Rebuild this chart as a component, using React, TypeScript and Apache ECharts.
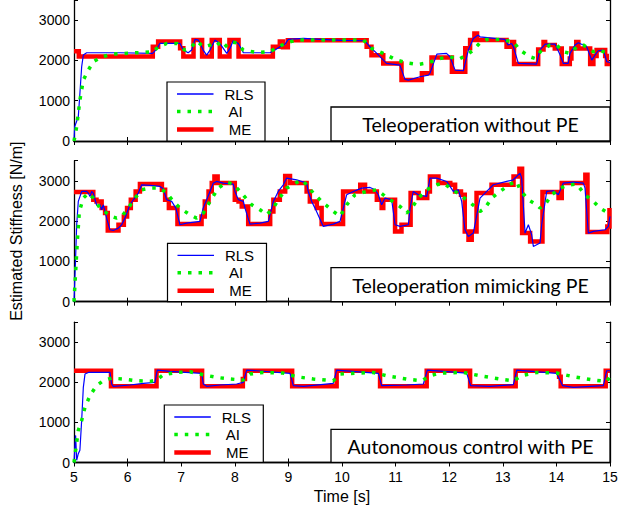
import React, { useEffect, useRef } from 'react';
import * as echarts from 'echarts';

// ---------- axis ticks / labels ----------
const X_TICKS = [5, 6, 7, 8, 9, 10, 11, 12, 13, 14, 15];
const Y_TICKS = [0, 1000, 2000, 3000];
const Y_MAX = 3500;
const SERIES_NAMES = ['RLS', 'AI', 'ME'];
const PANEL_TITLES = ['Teleoperation without PE', 'Teleoperation mimicking PE', 'Autonomous control with PE'];
const X_NAME = 'Time [s]';
const Y_NAME = 'Estimated Stiffness [N/m]';

// ---------- panel 1: Teleoperation without PE ----------
const topME: number[][] = [
  [5.0, 2230], [5.09, 2100], [6.47, 2340], [6.57, 2470], [6.98, 2300], [7.04, 2100], [7.23, 2510], [7.39, 2100],
  [7.57, 2510], [7.72, 2100], [7.9, 2510], [8.07, 2100], [8.71, 2340], [8.84, 2470], [8.9, 2330], [8.99, 2500],
  [10.46, 2340], [10.55, 2130], [10.77, 1926], [11.11, 1513], [11.49, 1680], [11.67, 2075], [12.05, 1720],
  [12.3, 2300], [12.39, 2505], [12.47, 2670], [12.52, 2505], [13.07, 2340], [13.17, 2460], [13.21, 1910],
  [13.66, 2274], [13.76, 2460], [13.79, 2381], [13.97, 2298], [14.1, 1910], [14.25, 2050], [14.28, 2298],
  [14.37, 2460], [14.41, 2298], [14.63, 1910], [14.69, 2108], [14.75, 2257], [14.91, 2108], [14.94, 1910], [15.0, 1910],
];
const topRLS: number[][] = [
  [5.0, 0], [5.012, 354], [5.08, 603], [5.11, 1181], [5.143, 1843], [5.174, 2133], [5.236, 2190], [5.86, 2190],
  [6.467, 2174], [6.54, 2273], [6.6, 2422], [6.977, 2422], [7.04, 2257], [7.13, 2190], [7.195, 2257], [7.257, 2521],
  [7.32, 2505], [7.41, 2257], [7.475, 2132], [7.537, 2257], [7.63, 2505], [7.72, 2422], [7.85, 2174], [7.91, 2298],
  [7.97, 2488], [8.066, 2422], [8.16, 2190], [8.656, 2190], [8.75, 2257], [8.843, 2339], [8.936, 2397], [8.998, 2521],
  [9.28, 2546], [9.6, 2525], [10.0, 2500], [10.43, 2488], [10.52, 2339], [10.65, 2174], [10.83, 1926], [11.08, 1884],
  [11.175, 1529], [11.24, 1512], [11.455, 1595], [11.61, 1636], [11.64, 1678], [11.77, 2157], [11.95, 2174],
  [12.015, 2091], [12.11, 1760], [12.264, 1744], [12.357, 2257], [12.45, 2546], [12.54, 2629], [12.575, 2587],
  [13.04, 2521], [13.1, 2381], [13.165, 2422], [13.197, 2339], [13.29, 1926], [13.63, 1909], [13.69, 2257],
  [13.79, 2405], [13.974, 2405], [14.07, 2132], [14.13, 1926], [14.22, 1926], [14.254, 2174], [14.347, 2381],
  [14.41, 2438], [14.565, 2339], [14.66, 2008], [14.72, 2132], [14.78, 2240], [14.876, 2257], [14.94, 1967], [15.0, 1950],
];
const topAI: number[][] = [
  [5.0, 0], [5.05, 354], [5.11, 1016], [5.174, 1512], [5.267, 1760], [5.36, 1967], [5.516, 2091], [5.733, 2157],
  [6.17, 2190], [6.48, 2215], [6.573, 2339], [6.73, 2422], [6.915, 2422], [7.07, 2257], [7.195, 2339], [7.288, 2488],
  [7.41, 2339], [7.537, 2381], [7.66, 2463], [7.786, 2298], [7.91, 2463], [8.035, 2438], [8.16, 2257], [8.41, 2199],
  [8.656, 2215], [8.81, 2339], [8.967, 2438], [9.154, 2505], [10.4, 2505], [10.554, 2298], [10.77, 2174],
  [11.02, 2008], [11.207, 1942], [11.425, 1901], [11.61, 1942], [11.83, 2050], [12.015, 2091], [12.17, 2025],
  [12.326, 2132], [12.45, 2257], [12.575, 2438], [12.7, 2521], [12.95, 2521], [13.197, 2463], [13.32, 2257],
  [13.508, 2091], [13.6, 2050], [13.725, 2257], [13.88, 2381], [14.005, 2381], [14.13, 2215], [14.254, 2174],
  [14.38, 2339], [14.503, 2381], [14.69, 2215], [14.814, 2257], [14.94, 2174], [15.0, 2132],
];

// ---------- panel 2: Teleoperation mimicking PE ----------
const midME: number[][] = [
  [5.0, 2720], [5.36, 2530], [5.42, 2489], [5.516, 2323], [5.58, 2199], [5.63, 1765], [5.83, 1910], [5.93, 2117],
  [5.99, 2323], [6.06, 2530], [6.15, 2737], [6.23, 2919], [6.64, 2778], [6.7, 2530], [6.77, 2323], [6.93, 1927],
  [7.38, 2117], [7.44, 2489], [7.51, 2737], [7.57, 2944], [7.62, 3109], [7.68, 2944], [8.0, 2530], [8.07, 2489],
  [8.13, 2365], [8.25, 1927], [8.66, 2241], [8.72, 2530], [8.84, 2737], [8.94, 3120], [9.03, 2944], [9.34, 2737],
  [9.4, 2489], [9.53, 2323], [9.62, 1927], [10.02, 2737], [10.34, 2902], [10.43, 2737], [10.65, 2530], [10.74, 2323],
  [10.77, 2530], [10.99, 1745], [11.11, 1910], [11.28, 2696], [11.43, 2572], [11.59, 2737], [11.64, 3109],
  [11.8, 2944], [12.02, 2902], [12.11, 2737], [12.22, 2654], [12.29, 1745], [12.36, 1538], [12.42, 1745],
  [12.51, 2696], [12.79, 2902], [13.2, 3109], [13.31, 3300], [13.36, 1703], [13.51, 1497], [13.74, 2720],
  [14.04, 2572], [14.1, 2944], [14.54, 3151], [14.58, 1728], [14.95, 1869], [14.99, 2323], [15.0, 2323],
];
const midRLS: number[][] = [
  [5.0, 0], [5.03, 1083], [5.05, 1910], [5.08, 2489], [5.143, 2737], [5.236, 2737], [5.267, 2696], [5.298, 2613],
  [5.33, 2737], [5.36, 2696], [5.42, 2406], [5.453, 2365], [5.485, 2406], [5.516, 2282], [5.547, 2406], [5.578, 2241],
  [5.609, 2075], [5.67, 1786], [5.733, 1769], [5.827, 1827], [5.889, 1910], [5.951, 2075], [6.044, 2406], [6.107, 2530],
  [6.2, 2696], [6.262, 2902], [6.418, 2886], [6.604, 2861], [6.666, 2803], [6.728, 2530], [6.822, 2489], [6.9, 2323],
  [6.977, 1910], [7.1, 1951], [7.35, 1993], [7.41, 2323], [7.475, 2530], [7.537, 2737], [7.6, 2944], [7.66, 2985],
  [7.786, 2944], [7.972, 2919], [8.003, 2737], [8.066, 2530], [8.16, 2489], [8.19, 2323], [8.283, 1927], [8.47, 1951],
  [8.625, 1993], [8.72, 2489], [8.81, 2737], [8.905, 2902], [8.967, 3068], [9.154, 3026], [9.34, 2944], [9.37, 2737],
  [9.434, 2489], [9.496, 2323], [9.651, 1869], [9.838, 1927], [9.963, 1993], [10.056, 2489], [10.087, 2654],
  [10.212, 2737], [10.367, 2820], [10.523, 2836], [10.616, 2778], [10.678, 2654], [10.74, 2406], [10.803, 2572],
  [10.927, 2530], [10.99, 1910], [11.083, 1869], [11.238, 1910], [11.27, 2323], [11.33, 2737], [11.425, 2654],
  [11.58, 2613], [11.642, 3068], [11.767, 3068], [11.953, 2985], [12.077, 2737], [12.17, 2778], [12.233, 2489],
  [12.295, 1786], [12.357, 1621], [12.45, 1703], [12.575, 2572], [12.7, 2737], [12.824, 2902], [13.072, 2985],
  [13.197, 3026], [13.321, 3192], [13.352, 3068], [13.415, 1703], [13.477, 1910], [13.539, 1662], [13.57, 1372],
  [13.694, 1455], [13.725, 1910], [13.819, 2737], [13.943, 2754], [14.036, 2654], [14.13, 2944], [14.316, 2969],
  [14.503, 2944], [14.534, 2820], [14.596, 1703], [14.69, 1745], [14.907, 1786], [14.969, 1869], [15.0, 2117],
];
const midAI: number[][] = [
  [5.0, 0], [5.062, 1497], [5.1, 2241], [5.174, 2572], [5.267, 2696], [5.36, 2572], [5.485, 2323], [5.609, 2199],
  [5.702, 2117], [5.796, 2075], [5.889, 2117], [6.013, 2323], [6.138, 2572], [6.262, 2778], [6.418, 2820],
  [6.604, 2820], [6.728, 2696], [6.853, 2489], [6.977, 2323], [7.164, 2158], [7.288, 2075], [7.413, 2199],
  [7.537, 2489], [7.692, 2820], [7.848, 2969], [7.972, 2919], [8.097, 2737], [8.314, 2406], [8.47, 2282],
  [8.594, 2158], [8.718, 2323], [8.812, 2530], [8.967, 2820], [9.247, 3026], [9.34, 2902], [9.465, 2696],
  [9.62, 2489], [9.838, 2241], [9.963, 2117], [10.087, 2406], [10.243, 2654], [10.46, 2737], [10.647, 2778],
  [10.771, 2654], [10.896, 2530], [11.083, 2365], [11.207, 2199], [11.3, 2323], [11.425, 2572], [11.58, 2778],
  [11.767, 2902], [11.891, 2944], [12.108, 2737], [12.326, 2530], [12.513, 2323], [12.575, 2241], [12.668, 2323],
  [12.793, 2572], [12.948, 2737], [13.135, 2919], [13.259, 2985], [13.321, 2778], [13.477, 2530], [13.632, 2406],
  [13.694, 2323], [13.788, 2406], [13.912, 2654], [14.067, 2820], [14.254, 2902], [14.379, 2919], [14.534, 2654],
  [14.69, 2489], [14.814, 2323], [14.969, 2199], [15.0, 2150],
];

// ---------- panel 3: Autonomous control with PE ----------
const botME: number[][] = [
  [5.0, 2289], [5.69, 1900], [6.54, 2289], [7.39, 1900], [8.15, 2080], [8.19, 2289], [9.07, 1900], [9.9, 2289],
  [10.71, 1900], [11.58, 2289], [12.39, 1900], [13.24, 2289], [14.05, 2140], [14.08, 1900], [14.92, 2289], [15.0, 2289],
];
const botRLS: number[][] = [
  [5.0, 0], [5.03, 676], [5.05, 56], [5.08, 221], [5.11, 304], [5.143, 1048], [5.174, 1875], [5.205, 2206],
  [5.267, 2247], [5.671, 2247], [5.702, 1958], [5.733, 1900], [6.044, 1933], [6.293, 1974], [6.51, 1999],
  [6.554, 2305], [6.79, 2272], [7.381, 2222], [7.413, 1958], [7.475, 1900], [7.724, 1933], [8.034, 1958],
  [8.159, 1999], [8.221, 2305], [8.408, 2289], [9.03, 2222], [9.092, 1916], [9.278, 1900], [9.838, 1974],
  [9.9, 2305], [10.678, 2222], [10.74, 1916], [11.207, 1933], [11.518, 1958], [11.592, 2305], [12.326, 2231],
  [12.4, 1916], [12.76, 1900], [13.197, 1941], [13.26, 2305], [14.005, 2222], [14.117, 1916], [14.316, 1875],
  [14.876, 1916], [14.938, 2289], [15.0, 2289],
];
const botAI: number[][] = [
  [5.0, 0], [5.08, 800], [5.143, 1048], [5.205, 1379], [5.298, 1668], [5.42, 1916], [5.547, 2040], [5.702, 2107],
  [5.92, 2082], [6.169, 2040], [6.418, 2024], [6.542, 2057], [6.666, 2189], [6.915, 2247], [7.164, 2264],
  [7.413, 2189], [7.661, 2123], [7.91, 2082], [8.159, 2057], [8.283, 2206], [8.532, 2247], [8.905, 2231],
  [9.154, 2140], [9.465, 2082], [9.838, 2040], [9.963, 2206], [10.585, 2247], [10.834, 2164], [11.207, 2082],
  [11.487, 2040], [11.642, 2164], [11.829, 2231], [12.264, 2247], [12.575, 2164], [12.948, 2082], [13.197, 2040],
  [13.352, 2164], [13.632, 2247], [14.005, 2231], [14.316, 2140], [14.69, 2057], [14.938, 2024], [15.0, 2140],
];

const PANELS = [
  { me: topME, rls: topRLS, ai: topAI },
  { me: midME, rls: midRLS, ai: midAI },
  { me: botME, rls: botRLS, ai: botAI },
];

// ---------- layout / style ----------
const GRID_LEFT = 74;
const GRID_WIDTH = 536;
const GRIDS = [
  { top: 0, height: 141 },
  { top: 160.7, height: 141 },
  { top: 322.2, height: 140.3 },
];
const LEGEND_BOXES = [
  { x: 167, y: 82, w: 98, h: 59 },
  { x: 167.5, y: 243.3, w: 99, h: 58.4 },
  { x: 164.3, y: 405, w: 99, h: 57.3 },
];
const TITLE_BOXES = [
  { y: 107, h: 34 },
  { y: 267.7, h: 34 },
  { y: 429.3, h: 33 },
];
const RED = '#ff0000';
const BLUE = '#0000ff';
const GREEN = '#00ee00';
const TICK_FONT = 'Liberation Sans, Arial, Helvetica, sans-serif';
const TITLE_FONT = 'Lato, "Open Sans", sans-serif';

function buildOption() {
  const xAxis: any[] = [];
  const yAxis: any[] = [];
  const series: any[] = [];
  const graphic: any[] = [];
  const axisLine = { show: true, lineStyle: { color: '#000', width: 1.3 } };
  const axisTick = { show: true, inside: true, length: 4, lineStyle: { color: '#000', width: 1 } };

  GRIDS.forEach((g, i) => {
    const isLast = i === GRIDS.length - 1;
    const common = {
      gridIndex: i,
      type: 'value',
      min: X_TICKS[0],
      max: X_TICKS[X_TICKS.length - 1],
      interval: X_TICKS[1] - X_TICKS[0],
      splitLine: { show: false },
      axisLine,
      axisTick,
    };
    xAxis.push({
      ...common,
      position: 'bottom',
      axisLabel: { show: isLast, color: '#000', fontSize: 14, fontFamily: TICK_FONT, margin: 7 },
      name: isLast ? X_NAME : '',
      nameLocation: 'middle',
      nameGap: 26,
      nameTextStyle: { color: '#000', fontSize: 16, fontFamily: TICK_FONT },
    });
    xAxis.push({ ...common, position: 'top', axisLabel: { show: false } });

    const yCommon = {
      gridIndex: i,
      type: 'value',
      min: Y_TICKS[0],
      max: Y_MAX,
      interval: Y_TICKS[1] - Y_TICKS[0],
      splitLine: { show: false },
      axisLine,
      axisTick,
    };
    yAxis.push({
      ...yCommon,
      position: 'left',
      axisLabel: {
        show: true, color: '#000', fontSize: 14, fontFamily: TICK_FONT, margin: 4,
        formatter: (v: number) => (Y_TICKS.indexOf(v) >= 0 ? String(v) : ''),
      },
      name: i === 1 ? Y_NAME : '',
      nameLocation: 'middle',
      nameGap: 50,
      nameRotate: 90,
      nameTextStyle: { color: '#000', fontSize: 16, fontFamily: TICK_FONT },
    });
    yAxis.push({ ...yCommon, position: 'right', axisLabel: { show: false } });

    const p = PANELS[i];
    series.push({
      name: SERIES_NAMES[2], type: 'line', xAxisIndex: i * 2, yAxisIndex: i * 2, data: p.me, step: 'end',
      showSymbol: false, symbol: 'none', lineStyle: { color: RED, width: 4.5, join: 'miter', cap: 'butt' }, z: 2,
    });
    series.push({
      name: SERIES_NAMES[0], type: 'line', xAxisIndex: i * 2, yAxisIndex: i * 2, data: p.rls,
      showSymbol: false, symbol: 'none', lineStyle: { color: BLUE, width: 1.2 }, z: 3,
    });
    series.push({
      name: SERIES_NAMES[1], type: 'line', xAxisIndex: i * 2, yAxisIndex: i * 2, data: p.ai,
      showSymbol: false, symbol: 'none', lineStyle: { color: GREEN, width: 3.5, type: [3.5, 7], cap: 'butt' }, z: 4,
    });

    // legend box
    const b = LEGEND_BOXES[i];
    graphic.push({
      type: 'rect', z: 100, shape: { x: b.x, y: b.y, width: b.w, height: b.h },
      style: { fill: '#fff', stroke: '#000', lineWidth: 1.2 },
    });
    const rows = [
      { name: SERIES_NAMES[0], dy: 12, stroke: BLUE, lw: 1.3, dash: null as any, cx: 72 },
      { name: SERIES_NAMES[1], dy: 29.5, stroke: GREEN, lw: 3.5, dash: [3.5, 7], cx: 68.5 },
      { name: SERIES_NAMES[2], dy: 47.5, stroke: RED, lw: 4.5, dash: null as any, cx: 73 },
    ];
    rows.forEach((r) => {
      graphic.push({
        type: 'line', z: 101,
        shape: { x1: b.x + 10, y1: b.y + r.dy, x2: b.x + 46.5, y2: b.y + r.dy },
        style: { stroke: r.stroke, lineWidth: r.lw, lineDash: r.dash || undefined },
      });
      graphic.push({
        type: 'text', z: 101, x: b.x + r.cx, y: b.y + r.dy,
        style: {
          text: r.name, fill: '#000', fontSize: 15, fontFamily: TICK_FONT,
          align: 'center', verticalAlign: 'middle', textAlign: 'center', textVerticalAlign: 'middle',
        },
      });
    });

    // title box
    const t = TITLE_BOXES[i];
    graphic.push({
      type: 'rect', z: 100, shape: { x: 331, y: t.y, width: GRID_LEFT + GRID_WIDTH - 331, height: t.h },
      style: { fill: '#fff', stroke: '#000', lineWidth: 1.3 },
    });
    graphic.push({
      type: 'text', z: 101, x: (331 + GRID_LEFT + GRID_WIDTH) / 2, y: t.y + t.h / 2 + 0.5,
      style: {
        text: PANEL_TITLES[i], fill: '#000', fontSize: 19.5, fontFamily: TITLE_FONT,
        align: 'center', verticalAlign: 'middle', textAlign: 'center', textVerticalAlign: 'middle',
      },
    });
  });

  return {
    animation: false,
    backgroundColor: '#fff',
    grid: GRIDS.map((g) => ({ left: GRID_LEFT, width: GRID_WIDTH, top: g.top, height: g.height, containLabel: false })),
    xAxis,
    yAxis,
    series,
    graphic,
  };
}

export default function App() {
  const ref = useRef<HTMLDivElement>(null);
  useEffect(() => {
    if (!ref.current) return;
    const chart = echarts.init(ref.current, null, { renderer: 'svg' });
    chart.setOption(buildOption() as any);
    return () => chart.dispose();
  }, []);
  return (
    <div
      ref={ref}
      style={{ position: 'fixed', left: 0, top: 0, width: 629, height: 507, background: '#fff' }}
    />
  );
}
